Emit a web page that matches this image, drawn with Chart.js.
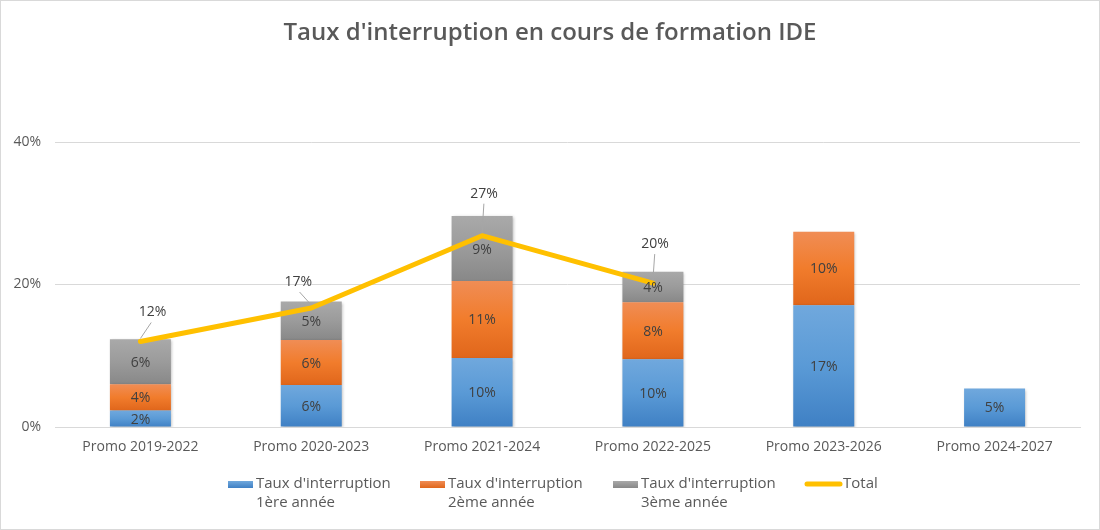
<!DOCTYPE html>
<html lang="fr">
<head>
<meta charset="utf-8">
<title>Taux d'interruption en cours de formation IDE</title>
<script src="https://cdn.jsdelivr.net/npm/chart.js@4.4.0/dist/chart.umd.min.js"></script>
<style>
  html, body { margin: 0; padding: 0; background: #ffffff; }
  #wrap { width: 1100px; height: 530px; position: relative; }
  canvas { display: block; }
</style>
</head>
<body>
<div id="wrap"><canvas id="c" width="1100" height="530"></canvas></div>
<script>
// ---- Data (in %) ----
const categories = ['Promo 2019-2022', 'Promo 2020-2023', 'Promo 2021-2024', 'Promo 2022-2025', 'Promo 2023-2026', 'Promo 2024-2027'];
const annee1 = [2.3, 5.9, 9.7, 9.5, 17.1, 5.4];
const annee2 = [3.7, 6.3, 10.8, 8.0, 10.3, null];
const annee3 = [6.3, 5.4, 9.1, 4.3, null, null];
const total  = [12.0, 16.7, 26.85, 20.2, null, null];
const yTickValues = [0, 20, 40];
const seriesNames = [["Taux d'interruption", "1ère année"], ["Taux d'interruption", "2ème année"], ["Taux d'interruption", "3ème année"], ["Total"]];
const chartTitle = "Taux d'interruption en cours de formation IDE";

const FONT = "'Open Sans', 'Noto Sans', sans-serif";
const barSeries = [annee1, annee2, annee3];
const gradStops = [
  ['#70a8dd', '#5a9ad6', '#3f80c4'],
  ['#f08d55', '#f17c2c', '#e0661b'],
  ['#a9a9a9', '#9b9b9b', '#888888']
];

function barGradient(dsIndex) {
  return function(context) {
    const chart = context.chart;
    const y = chart.scales && chart.scales.y;
    const i = context.dataIndex;
    if (!y || i === undefined || !chart.chartArea) return gradStops[dsIndex][1];
    let base = 0;
    for (let k = 0; k < dsIndex; k++) base += barSeries[k][i] || 0;
    const v = barSeries[dsIndex][i] || 0;
    const yTop = y.getPixelForValue(base + v);
    const yBot = y.getPixelForValue(base);
    if (!isFinite(yTop) || !isFinite(yBot) || yTop === yBot) return gradStops[dsIndex][1];
    const g = chart.ctx.createLinearGradient(0, yTop, 0, yBot);
    g.addColorStop(0, gradStops[dsIndex][0]);
    g.addColorStop(0.5, gradStops[dsIndex][1]);
    g.addColorStop(1, gradStops[dsIndex][2]);
    return g;
  };
}

// label placement offsets for the Total line labels (dx, dy above point)
const totalLabelOffsets = [[12, 29], [-13, 26], [2, 42], [2, 39]];

const decorPlugin = {
  id: 'decor',
  beforeDraw(chart) {
    const ctx = chart.ctx;
    ctx.save();
    ctx.fillStyle = '#ffffff';
    ctx.fillRect(0, 0, chart.width, chart.height);
    ctx.restore();
  },
  beforeDatasetDraw(chart, args) {
    if (chart.data.datasets[args.index].type === 'bar') {
      const ctx = chart.ctx;
      ctx.save();
      ctx.shadowColor = 'rgba(0,0,0,0.28)';
      ctx.shadowBlur = 3;
      ctx.shadowOffsetX = 1;
      ctx.shadowOffsetY = 1;
    }
  },
  afterDatasetDraw(chart, args) {
    if (chart.data.datasets[args.index].type === 'bar') {
      chart.ctx.restore();
    }
  },
  afterDatasetsDraw(chart) {
    const ctx = chart.ctx;
    ctx.save();
    ctx.font = '14px ' + FONT;
    ctx.fillStyle = '#404040';
    ctx.textAlign = 'center';
    ctx.textBaseline = 'middle';
    chart.data.datasets.forEach((ds, di) => {
      const meta = chart.getDatasetMeta(di);
      if (ds.type === 'bar') {
        meta.data.forEach((el, i) => {
          const v = ds.data[i];
          if (v === null || v === undefined) return;
          const p = el.getProps(['x', 'y', 'base'], true);
          ctx.fillText(Math.round(v) + '%', p.x, (p.y + p.base) / 2 + 1);
        });
      } else {
        meta.data.forEach((el, i) => {
          const v = ds.data[i];
          if (v === null || v === undefined) return;
          const p = el.getProps(['x', 'y'], true);
          const off = totalLabelOffsets[i] || [0, 30];
          const lx = p.x + off[0], ly = p.y - off[1];
          ctx.strokeStyle = '#a6a6a6';
          ctx.lineWidth = 1;
          ctx.beginPath();
          ctx.moveTo(lx - off[0] * 0.1, ly + 10);
          ctx.lineTo(p.x, p.y - 3);
          ctx.stroke();
          ctx.fillStyle = '#404040';
          ctx.fillText(Math.round(v) + '%', lx, ly);
        });
      }
    });
    ctx.restore();
  },
  afterDraw(chart) {
    const ctx = chart.ctx;
    ctx.save();
    // title
    ctx.font = '600 24px ' + FONT;
    ctx.fillStyle = '#595959';
    ctx.textAlign = 'center';
    ctx.textBaseline = 'middle';
    ctx.fillText(chartTitle, chart.width / 2, 33);
    // legend
    ctx.font = '15px ' + FONT;
    ctx.textAlign = 'left';
    const itemX = [228, 420, 613, 805];
    seriesNames.forEach((lines, k) => {
      const x = itemX[k];
      if (k < 3) {
        const g = ctx.createLinearGradient(0, 481, 0, 488);
        g.addColorStop(0, gradStops[k][0]);
        g.addColorStop(1, gradStops[k][2]);
        ctx.fillStyle = g;
        ctx.fillRect(x, 481, 25, 7);
        ctx.fillStyle = '#595959';
        lines.forEach((t, j) => ctx.fillText(t, x + 28, 484 + j * 19));
      } else {
        ctx.strokeStyle = '#ffc000';
        ctx.lineWidth = 5;
        ctx.lineCap = 'round';
        ctx.beginPath();
        ctx.moveTo(x + 2, 484);
        ctx.lineTo(x + 35, 484);
        ctx.stroke();
        ctx.fillStyle = '#595959';
        ctx.fillText(lines[0], x + 38, 484);
      }
    });
    // outer border
    ctx.strokeStyle = '#d9d9d9';
    ctx.lineWidth = 1;
    ctx.strokeRect(0.5, 0.5, chart.width - 1, chart.height - 1);
    ctx.restore();
  }
};

const datasets = [
  { type: 'bar', label: seriesNames[0].join(' '), data: annee1, backgroundColor: barGradient(0), stack: 's', order: 2 },
  { type: 'bar', label: seriesNames[1].join(' '), data: annee2, backgroundColor: barGradient(1), stack: 's', order: 2 },
  { type: 'bar', label: seriesNames[2].join(' '), data: annee3, backgroundColor: barGradient(2), stack: 's', order: 2 },
  { type: 'line', label: seriesNames[3][0], data: total, borderColor: '#ffc000', backgroundColor: '#ffc000', borderWidth: 5,
    pointRadius: 0, tension: 0, spanGaps: false, order: 1, borderCapStyle: 'round', borderJoinStyle: 'round' }
];

new Chart(document.getElementById('c'), {
  data: { labels: categories, datasets: datasets },
  plugins: [decorPlugin],
  options: {
    responsive: false,
    animation: false,
    devicePixelRatio: 1,
    layout: { padding: { top: 142, right: 20, left: 0, bottom: 0 } },
    datasets: { bar: { categoryPercentage: 1, barPercentage: 0.357 } },
    plugins: { legend: { display: false }, title: { display: false }, tooltip: { enabled: false } },
    scales: {
      x: {
        stacked: true,
        grid: { display: false, drawTicks: false },
        border: { display: true, color: '#d9d9d9', width: 1 },
        ticks: { color: '#595959', font: { family: FONT, size: 14 }, padding: 12, maxRotation: 0 },
        afterFit(s) { s.height = 103; }
      },
      y: {
        stacked: true,
        min: 0, max: 40,
        afterBuildTicks(s) { s.ticks = yTickValues.map(v => ({ value: v })); },
        grid: { color: '#d9d9d9', lineWidth: 1, drawTicks: false },
        border: { display: false },
        ticks: { color: '#595959', font: { family: FONT, size: 14 }, padding: 14, callback: v => v + '%' },
        afterFit(s) { s.width = 55; }
      }
    }
  }
});
</script>
</body>
</html>
